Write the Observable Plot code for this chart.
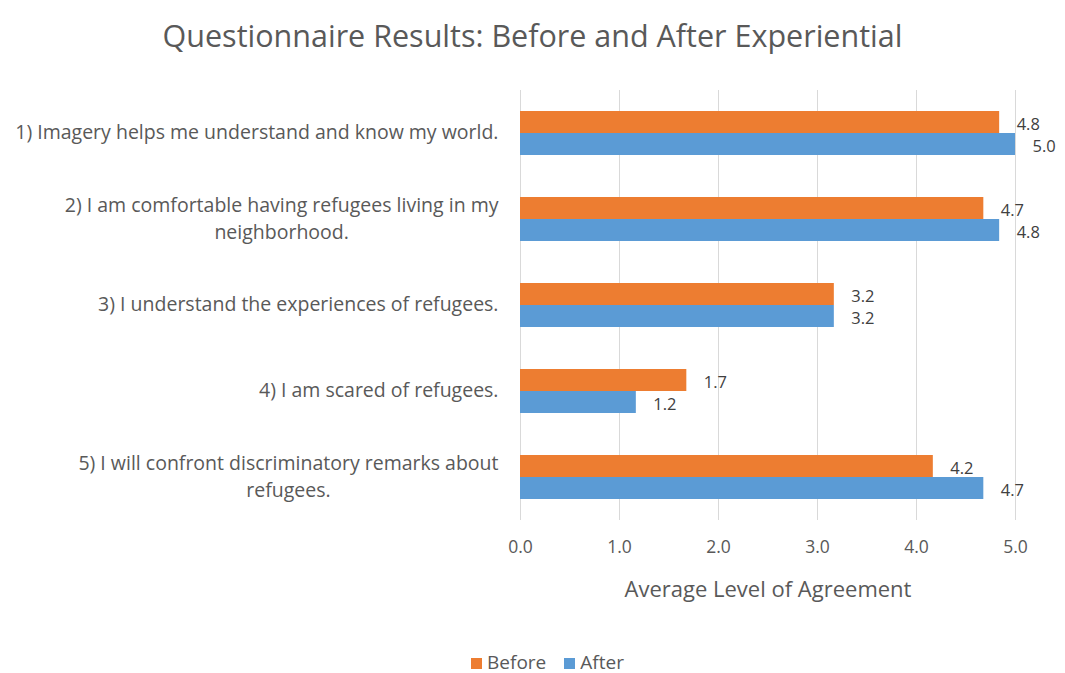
<!DOCTYPE html>
<html>
<head>
<meta charset="utf-8">
<script src="https://cdn.jsdelivr.net/npm/d3@7"></script>
<script src="https://cdn.jsdelivr.net/npm/@observablehq/plot@0.6"></script>
<style>
  html, body { margin: 0; padding: 0; background: #fff; }
  body { width: 1065px; height: 673px; overflow: hidden; font-family: "Open Sans", Lato, sans-serif; }
  #title { height: 70px; line-height: 70px; text-align: center; font-size: 30.5px; color: #595959; }
  #chart { height: 550px; }
  #legend { margin-top: 32px; height: 20px; line-height: 20px; text-align: center; font-size: 19px; color: #595959; padding-left: 30px; }
  #legend .sw { display: inline-block; width: 11px; height: 11px; margin-right: 5px; vertical-align: 0px; }
  #legend .item { margin: 0 9px; }
</style>
</head>
<body>
<div id="title">Questionnaire Results: Before and After Experiential</div>
<div id="chart"></div>
<div id="legend"></div>
<script>
const questions = [
  "1) Imagery helps me understand and know my world.",
  "2) I am comfortable having refugees living in my\nneighborhood.",
  "3) I understand the experiences of refugees.",
  "4) I am scared of refugees.",
  "5) I will confront discriminatory remarks about\nrefugees."
];
const series = ["Before", "After"];
const beforeValues = [4.84, 4.68, 3.17, 1.68, 4.17];
const afterValues = [5.0, 4.84, 3.17, 1.17, 4.68];
const xTicks = [0, 1, 2, 3, 4, 5];
const colors = ["#ED7D31", "#5B9BD5"];

const data = questions.flatMap((q, i) => [
  {question: q, series: "Before", value: beforeValues[i]},
  {question: q, series: "After", value: afterValues[i]}
]);

const chart = Plot.plot({
  width: 1065,
  height: 550,
  marginTop: 18,
  marginBottom: 98,
  marginLeft: 520,
  marginRight: 50,
  style: {fontFamily: "'Open Sans', Lato, sans-serif", fontSize: "16px", color: "#595959", background: "white", overflow: "visible"},
  x: {domain: [0, 5]},
  fy: {domain: questions, padding: 0},
  y: {domain: series, paddingInner: 0, paddingOuter: 0.95, axis: null},
  color: {domain: series, range: colors},
  marks: [
    Plot.gridX(xTicks, {stroke: "#d9d9d9", strokeOpacity: 1, strokeWidth: 1}),
    Plot.barX(data, {fy: "question", y: "series", x: "value", fill: "series"}),
    Plot.text(data, {fy: "question", y: "series", x: "value", text: d => d.value.toFixed(1),
      textAnchor: "start", dx: 17, dy: 2, fill: "#404040", fontSize: 16.5}),
    Plot.axisX({ticks: xTicks, tickFormat: d => d.toFixed(1), tickSize: 0, tickPadding: 20,
      fontSize: 17.5, fill: "#595959",
      label: "Average Level of Agreement", labelAnchor: "center", labelArrow: "none", labelOffset: 76}),
    Plot.axisFy({anchor: "left", tickSize: 0, tickPadding: 22, label: null, fontSize: 19.5,
      lineHeight: 1.4, dy: -3, fill: "#595959", textAnchor: "end"})
  ]
});
document.getElementById("chart").appendChild(chart);

// Larger axis title, as in the reference
d3.select(chart).selectAll("[aria-label='x-axis label'] text").style("font-size", "22px");

// Center wrapped category label lines within their right-aligned block (as in the reference)
d3.select(chart).selectAll("[aria-label='fy-axis tick label'] text").each(function() {
  const tspans = d3.select(this).selectAll("tspan");
  if (tspans.size() > 1) {
    let maxW = 0;
    tspans.each(function() { maxW = Math.max(maxW, this.getComputedTextLength()); });
    d3.select(this).attr("text-anchor", "middle");
    tspans.attr("x", -maxW / 2);
  }
});

// Legend
const legend = d3.select("#legend");
series.forEach((s, i) => {
  const item = legend.append("span").attr("class", "item");
  item.append("span").attr("class", "sw").style("background", colors[i]);
  item.append("span").text(s);
});
</script>
</body>
</html>
